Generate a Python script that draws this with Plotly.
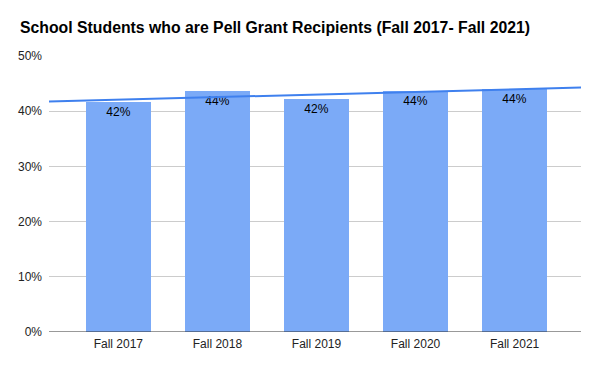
import numpy as np
import plotly.graph_objects as go

categories = ["Fall 2017", "Fall 2018", "Fall 2019", "Fall 2020", "Fall 2021"]
pell_share = [0.416, 0.437, 0.422, 0.436, 0.440]
y_ticks = [0, 0.1, 0.2, 0.3, 0.4, 0.5]
y_tick_labels = ["0%", "10%", "20%", "30%", "40%", "50%"]

pos = np.arange(len(categories))
x_range = [-0.70, 4.67]

# linear trendline (least squares) across the plot width
slope, intercept = np.polyfit(pos, pell_share, 1)
trend_x = np.array(x_range)
trend_y = slope * trend_x + intercept

FONT = "Arial, 'Liberation Sans', sans-serif"

fig = go.Figure()
fig.add_trace(go.Bar(
    x=pos, y=pell_share, width=0.655,
    marker=dict(color="#7baaf7", line=dict(width=0)),
    text=[f"{v*100:.0f}%" for v in pell_share],
    textposition="inside", insidetextanchor="end",
    textfont=dict(family=FONT, size=12, color="#000000"),
    cliponaxis=False, showlegend=False, hoverinfo="skip",
))
fig.add_trace(go.Scatter(
    x=trend_x, y=trend_y, mode="lines",
    line=dict(color="#3f80ee", width=2),
    showlegend=False, hoverinfo="skip",
))

fig.update_layout(
    width=600, height=371,
    margin=dict(l=49, r=19, t=56, b=39),
    paper_bgcolor="white", plot_bgcolor="white",
    title=dict(text="<b>School Students who are Pell Grant Recipients (Fall 2017- Fall 2021)</b>",
               x=20/600, xanchor="left", y=1-27/371, yanchor="middle",
               font=dict(family=FONT, size=15.8, color="#000000")),
    bargap=0,
    xaxis=dict(range=x_range, tickvals=list(pos), ticktext=categories,
               showgrid=False, zeroline=False, showline=False, ticks="",
               ticklabelstandoff=3,
               tickfont=dict(family=FONT, size=12, color="#222222")),
    yaxis=dict(range=[0, 0.5], tickvals=y_ticks, ticktext=y_tick_labels,
               showgrid=True, gridcolor="#cccccc", gridwidth=1,
               zeroline=False, showline=False, ticks="", ticklabelstandoff=6,
               tickfont=dict(family=FONT, size=12, color="#222222")),
    shapes=[dict(type="line", xref="paper", yref="y", x0=0, x1=1, y0=0, y1=0,
                 line=dict(color="#333333", width=1))],
)

fig.write_html("out.html", config={"displayModeBar": False},
               post_script="document.body.style.margin='0';")
